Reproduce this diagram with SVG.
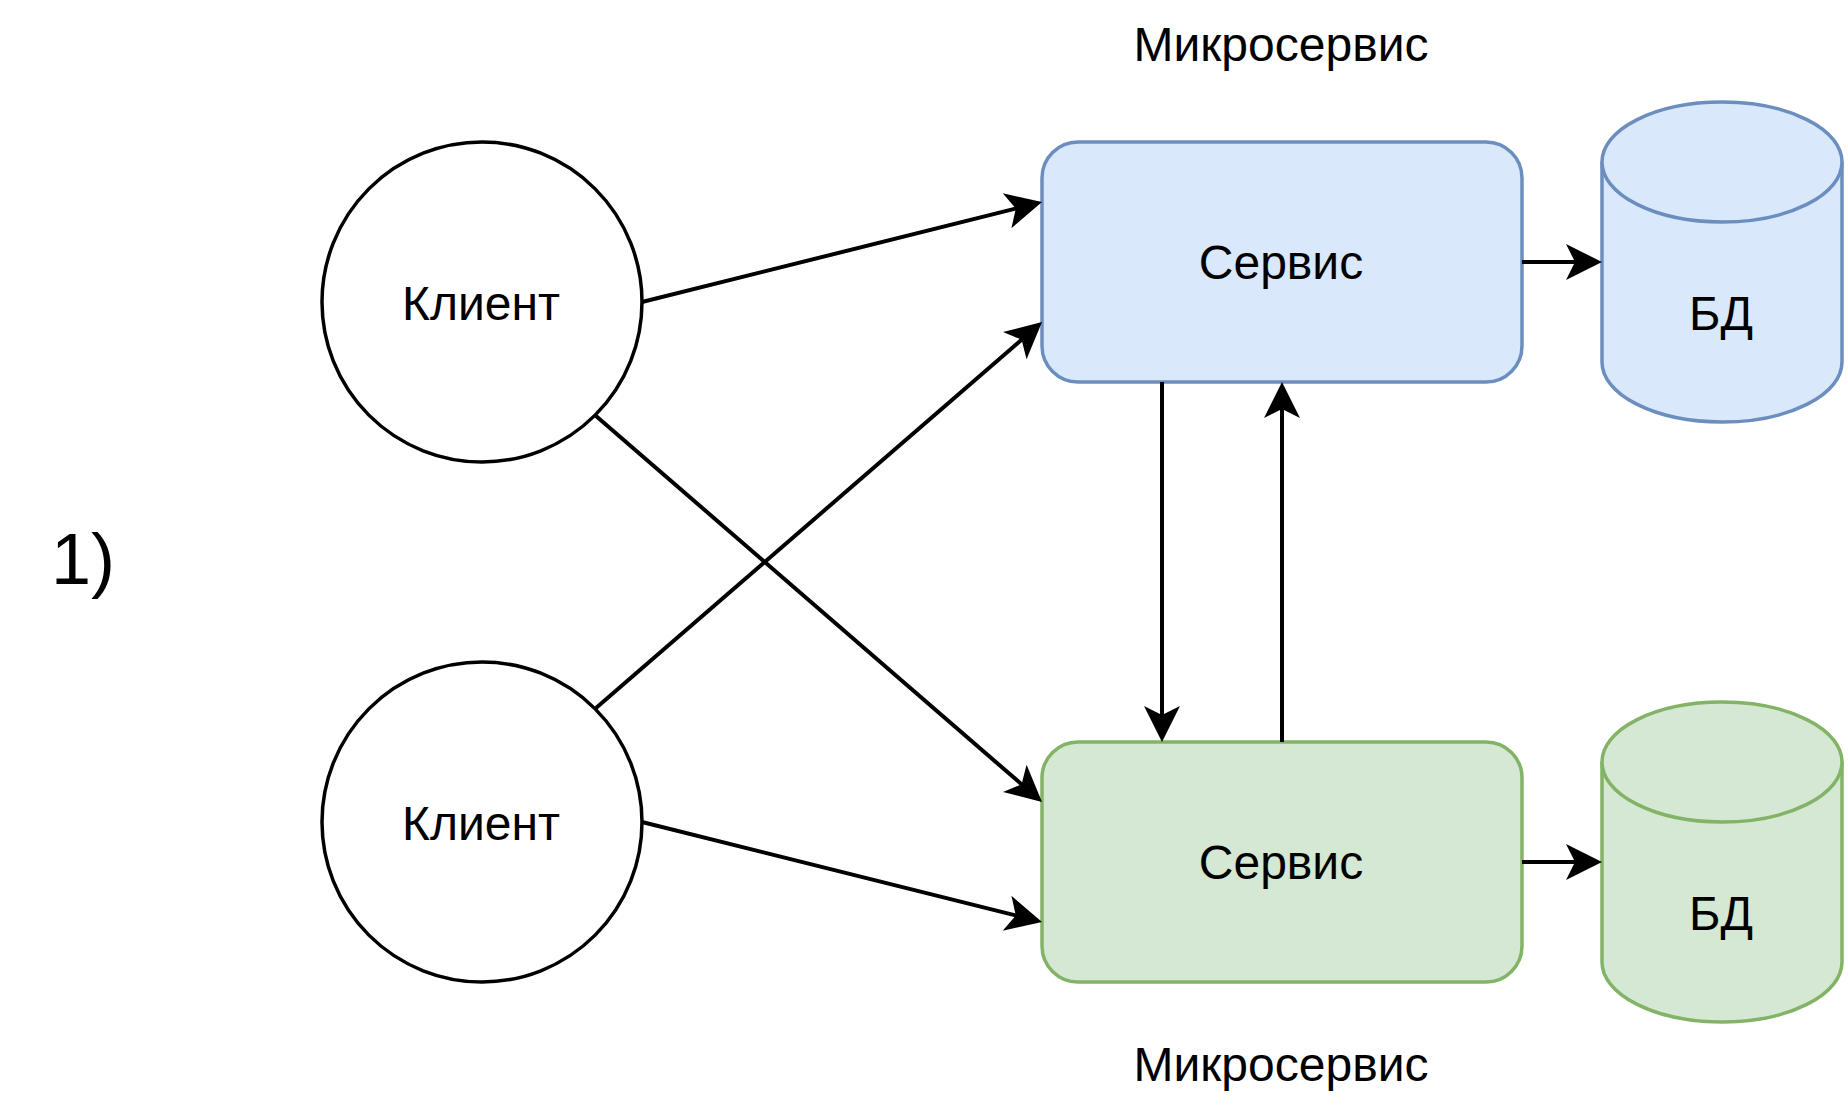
<svg xmlns="http://www.w3.org/2000/svg" width="1848" height="1108" viewBox="0 0 1848 1108">
<style>
text{font-family:"Liberation Sans",Arial,sans-serif;font-size:48px;fill:#000;text-anchor:middle}
.client{fill:#fff;stroke:#000;stroke-width:3.5}
.blue{fill:#dae8fc;stroke:#6c8ebf;stroke-width:3.5}
.green{fill:#d5e8d4;stroke:#82b366;stroke-width:3.5}
.edge{fill:none;stroke:#000;stroke-width:4;marker-end:url(#arrow)}
</style>
<defs>
<marker id="arrow" markerUnits="userSpaceOnUse" viewBox="-20 -20 42 40" refX="0" refY="0" markerWidth="42" markerHeight="40" orient="auto">
<path d="M20,0 L-16,-18 L-7,0 L-16,18 Z" fill="#000"/>
</marker>
</defs>
<rect width="1848" height="1108" fill="#fff"/>
<text id="label-1" x="51" y="584" style="text-anchor:start;font-size:72px">1)</text>
<text id="label-ms-top" x="1281" y="61">Микросервис</text>
<text id="label-ms-bottom" x="1281" y="1081">Микросервис</text>
<g id="client1">
<circle class="client" cx="482" cy="302" r="160"/>
<text x="481" y="320">Клиент</text>
</g>
<g id="client2">
<circle class="client" cx="482" cy="822" r="160"/>
<text x="481" y="840">Клиент</text>
</g>
<g id="service1">
<rect class="blue" x="1042" y="142" width="480" height="240" rx="36" ry="36"/>
<text x="1281" y="279">Сервис</text>
</g>
<g id="service2">
<rect class="green" x="1042" y="742" width="480" height="240" rx="36" ry="36"/>
<text x="1281" y="879">Сервис</text>
</g>
<g id="db1">
<path class="blue" d="M1602,162 A120,60 0 0 1 1842,162 L1842,362 A120,60 0 0 1 1602,362 Z"/>
<path class="blue" fill="none" d="M1602,162 A120,60 0 0 0 1842,162"/>
<text x="1721" y="330">БД</text>
</g>
<g id="db2">
<path class="green" d="M1602,762 A120,60 0 0 1 1842,762 L1842,962 A120,60 0 0 1 1602,962 Z"/>
<path class="green" fill="none" d="M1602,762 A120,60 0 0 0 1842,762"/>
<text x="1721" y="930">БД</text>
</g>
<g id="connectors">
<path class="edge" d="M642,302 L1022.6,206.9"/>
<path class="edge" d="M595.7,708.3 L1026.9,335.1"/>
<path class="edge" d="M595.7,415.7 L1026.9,788.9"/>
<path class="edge" d="M642,822 L1022.6,917.1"/>
<path class="edge" d="M1162,382 L1162,722"/>
<path class="edge" d="M1282,742 L1282,402"/>
<path class="edge" d="M1522,262 L1582,262"/>
<path class="edge" d="M1522,862 L1582,862"/>
</g>
</svg>
